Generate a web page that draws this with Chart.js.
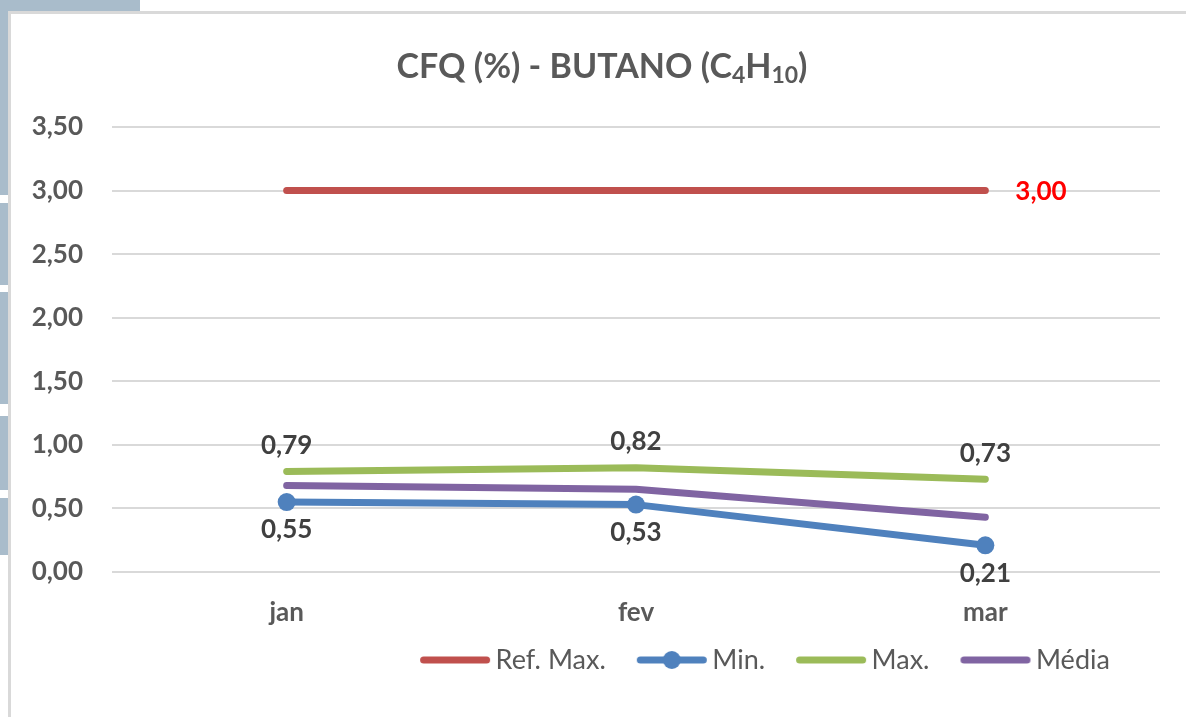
<!DOCTYPE html>
<html><head><meta charset="utf-8">
<script src="https://cdn.jsdelivr.net/npm/chart.js@4.4.1/dist/chart.umd.min.js"></script>
<style>
html,body{margin:0;padding:0;background:#fff;}
#wrap{position:relative;width:1186px;height:717px;overflow:hidden;background:#fff;}
.bg{position:absolute;background:#a9bccb;}
#frame{position:absolute;left:8px;top:11px;width:1200px;height:730px;border-left:3px solid #d9d9d9;border-top:3px solid #d9d9d9;background:#fff;}
canvas{position:absolute;left:0;top:0;}
</style></head>
<body><div id="wrap">
<div class="bg" style="left:0;top:0;width:140px;height:11px"></div>
<div class="bg" style="left:0;top:0;width:9px;height:195px"></div>
<div class="bg" style="left:0;top:203px;width:9px;height:82px"></div>
<div class="bg" style="left:0;top:292px;width:9px;height:112px"></div>
<div class="bg" style="left:0;top:416px;width:9px;height:74px"></div>
<div class="bg" style="left:0;top:498px;width:9px;height:57px"></div>
<div id="frame"></div>
<canvas id="c" width="1186" height="717"></canvas>
</div>
<script>
const categories = ['jan', 'fev', 'mar'];
const refMaxVals = [3.00, 3.00, 3.00];
const minVals = [0.55, 0.53, 0.21];
const maxVals = [0.79, 0.82, 0.73];
const mediaVals = [0.68, 0.65, 0.43];
const seriesNames = ['Ref. Max.', 'Min.', 'Max.', 'Média'];
const seriesColors = ['#c0504d', '#4f81bd', '#9bbb59', '#8064a2'];

const fmt = v => v.toFixed(2).replace('.', ',');

function makeIcon(color, withDot) {
  const c = document.createElement('canvas');
  c.width = 80; c.height = 20;
  const g = c.getContext('2d');
  g.strokeStyle = color; g.lineWidth = 7; g.lineCap = 'round';
  g.beginPath(); g.moveTo(12.5, 10); g.lineTo(75.5, 10); g.stroke();
  if (withDot) { g.fillStyle = color; g.beginPath(); g.arc(44, 10, 9, 0, Math.PI * 2); g.fill(); }
  return c;
}

const titlePlugin = {
  id: 'subTitle',
  afterDraw(chart) {
    const ctx = chart.ctx;
    const parts = [
      ['CFQ (%) - BUTANO (C', false], ['4', true], ['H', false], ['10', true], [')', false]
    ];
    const mainF = 'bold 34px Lato', subF = 'bold 23px Lato';
    ctx.save();
    let total = 0;
    parts.forEach(p => { ctx.font = p[1] ? subF : mainF; total += ctx.measureText(p[0]).width; });
    let x = 602 - total / 2;
    ctx.fillStyle = '#595959'; ctx.textBaseline = 'alphabetic'; ctx.textAlign = 'left';
    parts.forEach(p => {
      ctx.font = p[1] ? subF : mainF;
      ctx.fillText(p[0], x, p[1] ? 83 : 78);
      x += ctx.measureText(p[0]).width;
    });
    ctx.restore();
  }
};

const labelPlugin = {
  id: 'valueLabels',
  afterDatasetsDraw(chart) {
    const ctx = chart.ctx;
    ctx.save();
    ctx.font = 'bold 26px Lato';
    ctx.textBaseline = 'middle';
    ctx.textAlign = 'center';
    ctx.fillStyle = '#404040';
    chart.getDatasetMeta(2).data.forEach((p, i) => ctx.fillText(fmt(maxVals[i]), p.x, p.y - 26));
    chart.getDatasetMeta(1).data.forEach((p, i) => ctx.fillText(fmt(minVals[i]), p.x, p.y + 28));
    const last = refMaxVals.length - 1;
    const rp = chart.getDatasetMeta(0).data[last];
    ctx.fillStyle = '#ff0000'; ctx.textAlign = 'left';
    ctx.fillText(fmt(refMaxVals[last]), rp.x + 30, rp.y + 1);
    ctx.restore();
  }
};

const legendShift = {
  id: 'legendShift',
  afterLayout(chart) {
    const lg = chart.legend;
    if (!lg || !lg.lineWidths) return;
    const pad = lg.options.labels.padding;
    const lw = lg.lineWidths[0];
    const cur = (lg.left + pad + lg.right - lw) / 2;
    const want = 765 - (lw - pad) / 2;
    const dx = want - cur;
    lg.left += dx; lg.right += dx;
    const itemH = 27;
    const dy = (660 - pad - itemH / 2) - lg.top;
    lg.top += dy; lg.bottom += dy;
  }
};

function build() {
  const icons = seriesColors.map((c, i) => makeIcon(c, i === 1));
  new Chart(document.getElementById('c'), {
    type: 'line',
    data: {
      labels: categories,
      datasets: [
        { label: seriesNames[0], data: refMaxVals, borderColor: seriesColors[0], backgroundColor: seriesColors[0], borderWidth: 7, pointRadius: 0 },
        { label: seriesNames[1], data: minVals, borderColor: seriesColors[1], backgroundColor: seriesColors[1], borderWidth: 7, pointRadius: 9, pointBorderWidth: 0, pointBackgroundColor: seriesColors[1] },
        { label: seriesNames[2], data: maxVals, borderColor: seriesColors[2], backgroundColor: seriesColors[2], borderWidth: 7, pointRadius: 0 },
        { label: seriesNames[3], data: mediaVals, borderColor: seriesColors[3], backgroundColor: seriesColors[3], borderWidth: 7, pointRadius: 0 }
      ]
    },
    options: {
      responsive: false,
      animation: false,
      events: [],
      elements: { line: { tension: 0, borderCapStyle: 'round', borderJoinStyle: 'round' } },
      layout: { padding: { top: 127, left: 0, right: 26, bottom: 17 } },
      scales: {
        x: {
          offset: true,
          grid: { display: false },
          border: { display: false },
          ticks: { color: '#595959', font: { family: 'Lato', size: 26, weight: 'bold' }, padding: 17 },
          afterFit: s => { s.height = 60; }
        },
        y: {
          min: 0, max: 3.5,
          grid: { color: '#d9d9d9', lineWidth: 2, drawTicks: false },
          border: { display: false },
          ticks: { stepSize: 0.5, color: '#595959', font: { family: 'Lato', size: 26, weight: 'bold' }, padding: 29, callback: v => fmt(v) },
          afterFit: s => { s.width = 112; }
        }
      },
      plugins: {
        title: { display: false },
        tooltip: { enabled: false },
        legend: {
          position: 'bottom',
          labels: {
            usePointStyle: true,
            pointStyleWidth: 62,
            padding: 31,
            color: '#595959',
            font: { family: 'Lato', size: 27 },
            generateLabels: chart => chart.data.datasets.map((ds, i) => ({
              text: ds.label, pointStyle: icons[i], fillStyle: ds.borderColor, strokeStyle: ds.borderColor,
              lineWidth: 0, hidden: false, datasetIndex: i, fontColor: '#595959'
            }))
          }
        }
      }
    },
    plugins: [titlePlugin, labelPlugin, legendShift]
  });
}
const fontsReady = document.fonts ? Promise.all([document.fonts.load('bold 26px Lato'), document.fonts.load('27px Lato')]).catch(() => {}) : Promise.resolve();
fontsReady.then(build, build);
</script>
</body></html>
